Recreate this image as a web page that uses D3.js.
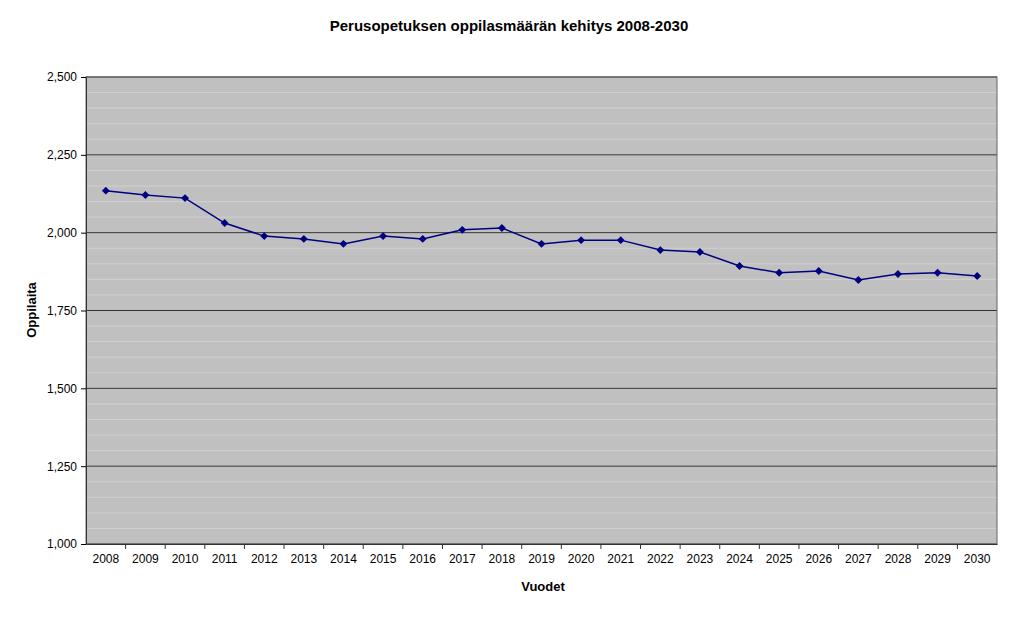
<!DOCTYPE html>
<html><head><meta charset="utf-8">
<script src="https://cdn.jsdelivr.net/npm/d3@7"></script>
<style>body{margin:0;background:#fff;font-family:"Liberation Sans",Arial,sans-serif}</style>
</head><body><div id="chart"></div>
<script>
const years = d3.range(2008, 2031).map(String);
const pupils = [2135,2121,2111,2031,1989,1980,1964,1989,1980,2009,2015,1964,1976,1976,1944,1938,1893,1871,1877,1848,1867,1871,1861];
const yTicks = [1000,1250,1500,1750,2000,2250,2500];
const minorTicks = d3.range(1000, 2501, 50);

const margin = {top: 77, right: 27, bottom: 83, left: 86};
const width = 1024 - margin.left - margin.right;
const height = 627 - margin.top - margin.bottom;
const svg = d3.select('#chart').append('svg').attr('width', 1024).attr('height', 627);
const g = svg.append('g').attr('transform', `translate(${margin.left},${margin.top})`);
const x = d3.scaleBand().domain(years).range([0, width]);
const y = d3.scaleLinear().domain([1000, 2500]).range([height, 0]);

g.append('rect').attr('width', width).attr('height', height).attr('fill', '#c0c0c0');
g.selectAll('.minor').data(minorTicks).join('line')
  .attr('x1', 0).attr('x2', width).attr('y1', d => y(d)).attr('y2', d => y(d))
  .attr('stroke', '#d0d0d0').attr('stroke-width', 1);
g.selectAll('.major').data(yTicks).join('line')
  .attr('x1', 0).attr('x2', width).attr('y1', d => y(d)).attr('y2', d => y(d))
  .attr('stroke', '#333').attr('stroke-width', 1);
g.append('rect').attr('width', width).attr('height', height).attr('fill', 'none').attr('stroke', '#666');

g.append('g').call(d3.axisLeft(y).tickValues(yTicks).tickSize(5).tickPadding(4))
  .call(a => a.selectAll('text').attr('font-size', 12).attr('fill', '#000').style('font-family', 'Liberation Sans'))
  .call(a => a.select('.domain').attr('stroke', '#333'));
g.append('g').attr('transform', `translate(0,${height})`)
  .call(d3.axisBottom(x).tickSize(0).tickPadding(10))
  .call(a => a.selectAll('text').attr('font-size', 12).attr('fill', '#000').style('font-family', 'Liberation Sans'))
  .call(a => a.select('.domain').attr('stroke', '#333'));
g.selectAll('.sep').data(years.slice(1)).join('line')
  .attr('x1', d => x(d)).attr('x2', d => x(d)).attr('y1', height).attr('y2', height + 5).attr('stroke', '#333');

const cx = d => x(d) + x.bandwidth() / 2;
g.append('path').datum(pupils)
  .attr('d', d3.line().x((d, i) => cx(years[i])).y(d => y(d)))
  .attr('fill', 'none').attr('stroke', '#000080').attr('stroke-width', 1.5);
g.selectAll('.pt').data(pupils).join('path')
  .attr('d', d3.symbol(d3.symbolDiamond2, 40))
  .attr('transform', (d, i) => `translate(${cx(years[i])},${y(d)})`)
  .attr('fill', '#000080');

svg.append('text').attr('x', 509).attr('y', 31).attr('text-anchor', 'middle')
  .attr('font-size', 15).attr('font-weight', 'bold').text('Perusopetuksen oppilasmäärän kehitys 2008-2030');
svg.append('text').attr('x', 543).attr('y', 591).attr('text-anchor', 'middle')
  .attr('font-size', 13).attr('font-weight', 'bold').text('Vuodet');
svg.append('text').attr('transform', 'translate(36,310) rotate(-90)').attr('text-anchor', 'middle')
  .attr('font-size', 13).attr('font-weight', 'bold').text('Oppilaita');
</script></body></html>
